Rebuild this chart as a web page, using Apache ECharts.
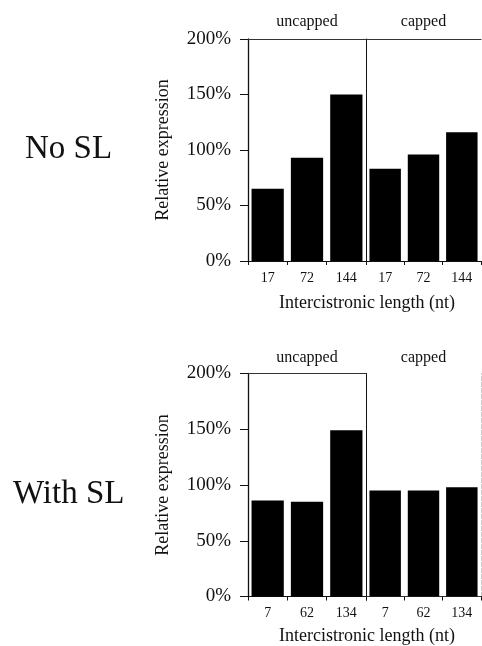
<!DOCTYPE html>
<html>
<head>
<meta charset="utf-8">
<script src="https://cdn.jsdelivr.net/npm/echarts@6/dist/echarts.min.js"></script>
<style>
  html, body { margin: 0; padding: 0; background: #fff; }
  #chart { width: 482px; height: 646px; }
</style>
</head>
<body>
<div id="chart"></div>
<script>
// Relative expression (%) of the downstream cistron, by intercistronic length
const groupNames = ['uncapped', 'capped'];
const panelNames = ['No SL', 'With SL'];

const noSlLengths = ['17', '72', '144'];
const noSlUncapped = [65, 93, 150];
const noSlCapped = [83, 96, 116];

const withSlLengths = ['7', '62', '134'];
const withSlUncapped = [86, 85, 149];
const withSlCapped = [95, 95, 98];

const yTicks = { min: 0, max: 200, interval: 50 };
const xTitle = 'Intercistronic length (nt)';
const yTitle = 'Relative expression';

const SERIF = "'Liberation Serif', 'Times New Roman', serif";
const INK = '#111';

const panels = [
  { top: 39, height: 222, lengths: noSlLengths, values: [noSlUncapped, noSlCapped], titleGap: 9, rightEdge: false },
  { top: 373.5, height: 223, lengths: withSlLengths, values: [withSlUncapped, withSlCapped], titleGap: 8, rightEdge: true }
];
const columns = [{ left: 248, width: 118 }, { left: 366, width: 115 }];

const grid = [], xAxis = [], yAxis = [], series = [];

panels.forEach((p, pi) => {
  columns.forEach((c, ci) => {
    const gi = grid.length;
    grid.push({ left: c.left, top: p.top, width: c.width, height: p.height, containLabel: false });

    // bottom category axis (series use these, even indices)
    xAxis.push({
      type: 'category', gridIndex: gi, data: p.lengths, position: 'bottom',
      axisLine: { lineStyle: { color: '#111', width: 1.2 } },
      axisTick: { show: true, length: 4, lineStyle: { color: '#111' } },
      axisLabel: { fontFamily: SERIF, fontSize: 14, color: INK, margin: 10 },
      splitLine: { show: false }
    });
    // top frame line carrying the group title
    xAxis.push({
      type: 'category', gridIndex: gi, data: p.lengths, position: 'top',
      name: groupNames[ci], nameLocation: 'middle', nameGap: p.titleGap,
      nameTextStyle: { fontFamily: SERIF, fontSize: 16, color: INK },
      axisLine: { lineStyle: { color: '#333', width: 1 } },
      axisTick: { show: false }, axisLabel: { show: false }, splitLine: { show: false }
    });

    const first = ci === 0;
    yAxis.push({
      type: 'value', gridIndex: gi, min: yTicks.min, max: yTicks.max, interval: yTicks.interval,
      position: 'left',
      name: first ? yTitle : '', nameLocation: 'middle', nameGap: 76,
      nameTextStyle: { fontFamily: SERIF, fontSize: 18, color: INK },
      axisLine: { show: true, lineStyle: { color: '#111', width: first ? 1.3 : 1 } },
      axisTick: { show: first, length: 8, lineStyle: { color: '#111' } },
      axisLabel: { show: first, fontFamily: SERIF, fontSize: 19, color: INK, margin: 17,
                   formatter: '{value}%' },
      splitLine: { show: false }
    });
    if (!first && p.rightEdge) {
      yAxis.push({
        type: 'value', gridIndex: gi, min: yTicks.min, max: yTicks.max, position: 'right',
        axisLine: { show: true, lineStyle: { color: '#c8c8c8', width: 1, type: 'dashed' } },
        axisTick: { show: false }, axisLabel: { show: false }, splitLine: { show: false }
      });
    }

    series.push({
      type: 'bar', xAxisIndex: gi * 2, yAxisIndex: yAxis.findIndex(a => a.gridIndex === gi),
      data: p.values[ci], barCategoryGap: '18%',
      itemStyle: { color: '#000' }, silent: true, animation: false
    });
  });
});

const chart = echarts.init(document.getElementById('chart'));
chart.setOption({
  backgroundColor: '#fff',
  animation: false,
  grid, xAxis, yAxis, series,
  graphic: [
    { type: 'text', left: 25, top: 133, style: { text: panelNames[0], font: '33px ' + SERIF, fill: INK } },
    { type: 'text', left: 13, top: 478, style: { text: panelNames[1], font: '33px ' + SERIF, fill: INK } },
    { type: 'text', x: 367, y: 303, style: { text: xTitle, font: '18px ' + SERIF, fill: INK, align: 'center', verticalAlign: 'middle' } },
    { type: 'text', x: 367, y: 636, style: { text: xTitle, font: '18px ' + SERIF, fill: INK, align: 'center', verticalAlign: 'middle' } }
  ]
});
</script>
</body>
</html>
